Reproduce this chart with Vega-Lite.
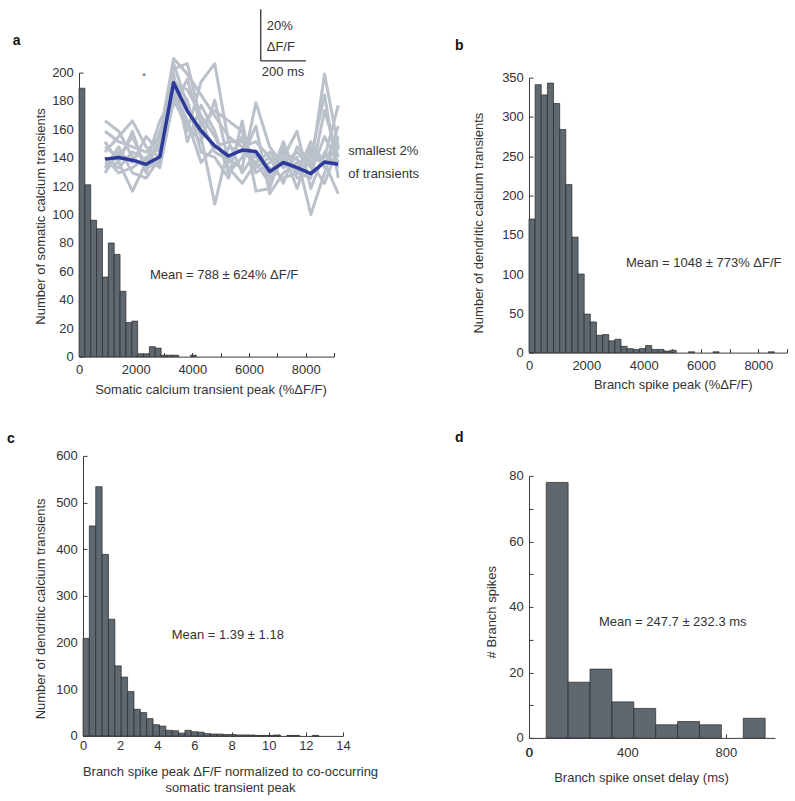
{
  "$schema": "https://vega.github.io/schema/vega-lite/v6.json",
  "autosize": {"type": "pad"},
  "padding": {"left": 7, "top": 7.6, "right": 4, "bottom": 4},
  "background": "white",
  "config": {
    "view": {"stroke": null},
    "font": "Liberation Sans",
    "axis": {
      "grid": false, "domainColor": "#3a3a3a", "tickColor": "#3a3a3a",
      "labelColor": "#333333", "titleColor": "#333333",
      "labelFont": "Liberation Sans", "titleFont": "Liberation Sans",
      "labelFontSize": 13, "titleFontSize": 13, "titleFontWeight": "normal",
      "tickSize": -4, "domainWidth": 1, "tickWidth": 1,
      "labelFlush": false, "labelOverlap": false, "labelBound": false,
      "titleAlign": "center", "titleBaseline": "alphabetic", "format": "d"
    },
    "axisLeft": {"labelPadding": 9.7, "titleAngle": -90},
    "text": {"color": "#333333", "font": "Liberation Sans", "fontSize": 13}
  },
  "datasets": {
    "histA": [
      {"x": 0, "x2": 207, "y": 189}, {"x": 207, "x2": 414, "y": 121}, {"x": 414, "x2": 621, "y": 96},
      {"x": 621, "x2": 828, "y": 90}, {"x": 828, "x2": 1035, "y": 56}, {"x": 1035, "x2": 1242, "y": 80},
      {"x": 1242, "x2": 1449, "y": 72}, {"x": 1449, "x2": 1656, "y": 46}, {"x": 1656, "x2": 1863, "y": 24},
      {"x": 1863, "x2": 2070, "y": 25}, {"x": 2070, "x2": 2277, "y": 2}, {"x": 2277, "x2": 2484, "y": 2},
      {"x": 2484, "x2": 2691, "y": 7}, {"x": 2691, "x2": 2898, "y": 6}, {"x": 2898, "x2": 3105, "y": 1},
      {"x": 3105, "x2": 3312, "y": 1}, {"x": 3312, "x2": 3519, "y": 1}, {"x": 3933, "x2": 4140, "y": 1}
    ],
    "histB": [
      {"x": 0, "x2": 214, "y": 170}, {"x": 214, "x2": 428, "y": 341}, {"x": 428, "x2": 642, "y": 328},
      {"x": 642, "x2": 856, "y": 343}, {"x": 856, "x2": 1070, "y": 317}, {"x": 1070, "x2": 1284, "y": 284},
      {"x": 1284, "x2": 1498, "y": 214}, {"x": 1498, "x2": 1712, "y": 147}, {"x": 1712, "x2": 1926, "y": 100},
      {"x": 1926, "x2": 2140, "y": 49}, {"x": 2140, "x2": 2354, "y": 39}, {"x": 2354, "x2": 2568, "y": 22},
      {"x": 2568, "x2": 2782, "y": 23}, {"x": 2782, "x2": 2996, "y": 15}, {"x": 2996, "x2": 3210, "y": 17},
      {"x": 3210, "x2": 3424, "y": 8}, {"x": 3424, "x2": 3638, "y": 5}, {"x": 3638, "x2": 3852, "y": 4},
      {"x": 3852, "x2": 4066, "y": 5}, {"x": 4066, "x2": 4280, "y": 9}, {"x": 4280, "x2": 4494, "y": 4},
      {"x": 4494, "x2": 4708, "y": 4}, {"x": 4708, "x2": 4922, "y": 2}, {"x": 4922, "x2": 5136, "y": 3},
      {"x": 5564, "x2": 5778, "y": 1}, {"x": 6420, "x2": 6634, "y": 1}, {"x": 8346, "x2": 8560, "y": 1}
    ],
    "histC": [
      {"x": 0, "x2": 0.343, "y": 209}, {"x": 0.343, "x2": 0.686, "y": 450}, {"x": 0.686, "x2": 1.029, "y": 534},
      {"x": 1.029, "x2": 1.372, "y": 389}, {"x": 1.372, "x2": 1.715, "y": 250}, {"x": 1.715, "x2": 2.058, "y": 150},
      {"x": 2.058, "x2": 2.401, "y": 126}, {"x": 2.401, "x2": 2.744, "y": 95}, {"x": 2.744, "x2": 3.087, "y": 57},
      {"x": 3.087, "x2": 3.43, "y": 50}, {"x": 3.43, "x2": 3.773, "y": 37}, {"x": 3.773, "x2": 4.116, "y": 24},
      {"x": 4.116, "x2": 4.459, "y": 21}, {"x": 4.459, "x2": 4.802, "y": 12}, {"x": 4.802, "x2": 5.145, "y": 11},
      {"x": 5.145, "x2": 5.488, "y": 6}, {"x": 5.488, "x2": 5.831, "y": 12}, {"x": 5.831, "x2": 6.174, "y": 9},
      {"x": 6.174, "x2": 6.517, "y": 8}, {"x": 6.517, "x2": 6.86, "y": 5}, {"x": 6.86, "x2": 7.203, "y": 4},
      {"x": 7.203, "x2": 7.546, "y": 4}, {"x": 7.546, "x2": 7.889, "y": 3}, {"x": 7.889, "x2": 8.232, "y": 3},
      {"x": 8.232, "x2": 8.575, "y": 2}, {"x": 8.575, "x2": 8.918, "y": 2}, {"x": 8.918, "x2": 9.261, "y": 2},
      {"x": 9.261, "x2": 9.604, "y": 1}, {"x": 9.604, "x2": 9.947, "y": 1}, {"x": 9.947, "x2": 10.29, "y": 1},
      {"x": 10.29, "x2": 10.633, "y": 2}, {"x": 10.976, "x2": 11.319, "y": 1}, {"x": 11.319, "x2": 11.662, "y": 1},
      {"x": 12.348, "x2": 12.691, "y": 1}
    ],
    "histD": [
      {"x": 70, "x2": 159, "y": 78}, {"x": 159, "x2": 248, "y": 17}, {"x": 248, "x2": 337, "y": 21},
      {"x": 337, "x2": 426, "y": 11}, {"x": 426, "x2": 515, "y": 9}, {"x": 515, "x2": 604, "y": 4},
      {"x": 604, "x2": 693, "y": 5}, {"x": 693, "x2": 782, "y": 4}, {"x": 871, "x2": 960, "y": 6}
    ],
    "notesA": [{"x": 2506, "y": 57.5, "label": "Mean = 788 ± 624% ΔF/F"}],
    "tagA": [{"x": -2199, "y": 219.3, "label": "a"}],
    "notesB": [{"x": 3383, "y": 114.2, "label": "Mean = 1048 ± 773% ΔF/F"}],
    "tagB": [{"x": -2431, "y": 384.9, "label": "b"}],
    "notesC": [{"x": 4.776, "y": 216.4, "label": "Mean = 1.39 ± 1.18"}],
    "tagC": [{"x": -3.877, "y": 628.5, "label": "c"}],
    "notesD": [{"x": 284.6, "y": 35.4, "label": "Mean = 247.7 ± 232.3 ms"}],
    "tagD": [{"x": -283.3, "y": 90.2, "label": "d"}],
    "zeroD": [{"x": 0, "y": -5.71, "label": "0"}],
    "scaleBar": [
      {"t": 11.35, "t2": 11.35, "v": 43.08, "v2": 62.96},
      {"t": 11.35, "t2": 14.65, "v": 43.08, "v2": 43.08}
    ],
    "traceNotes": [
      {"t": 11.79, "v": 56.65, "label": "20%"},
      {"t": 11.79, "v": 48.4, "label": "ΔF/F"},
      {"t": 11.42, "v": 38.7, "label": "200 ms"},
      {"t": 17.73, "v": 8.46, "label": "smallest 2%"},
      {"t": 17.73, "v": -0.38, "label": "of transients"}
    ],
    "star": [{"t": 2.84, "v": 37.2, "label": "*"}],
    "meanTrace": [
      {"t": 0, "v": 5.3}, {"t": 1, "v": 5.9}, {"t": 2, "v": 4.9}, {"t": 3, "v": 3.3}, {"t": 4, "v": 6.2},
      {"t": 5, "v": 34.7}, {"t": 6, "v": 23.8}, {"t": 7, "v": 16.2}, {"t": 8, "v": 10.4}, {"t": 9, "v": 6.5},
      {"t": 10, "v": 8.8}, {"t": 11, "v": 8.2}, {"t": 12, "v": 0.5}, {"t": 13, "v": 4.0}, {"t": 14, "v": 2.0},
      {"t": 15, "v": -0.3}, {"t": 16, "v": 4.2}, {"t": 17, "v": 3.3}
    ],
    "traces": [
      {"id": "T1", "t": 0, "v": 16}, {"id": "T1", "t": 1, "v": 12}, {"id": "T1", "t": 2, "v": 10}, {"id": "T1", "t": 3, "v": 8}, {"id": "T1", "t": 4, "v": 14}, {"id": "T1", "t": 5, "v": 44}, {"id": "T1", "t": 6, "v": 38}, {"id": "T1", "t": 7, "v": 30}, {"id": "T1", "t": 8, "v": 22}, {"id": "T1", "t": 9, "v": 14}, {"id": "T1", "t": 10, "v": 10}, {"id": "T1", "t": 11, "v": 12}, {"id": "T1", "t": 12, "v": 6}, {"id": "T1", "t": 13, "v": 4}, {"id": "T1", "t": 14, "v": 8}, {"id": "T1", "t": 15, "v": 2}, {"id": "T1", "t": 16, "v": 38}, {"id": "T1", "t": 17, "v": 10},
      {"id": "T2", "t": 0, "v": 4}, {"id": "T2", "t": 1, "v": 2}, {"id": "T2", "t": 2, "v": 8}, {"id": "T2", "t": 3, "v": 5}, {"id": "T2", "t": 4, "v": 10}, {"id": "T2", "t": 5, "v": 40}, {"id": "T2", "t": 6, "v": 42}, {"id": "T2", "t": 7, "v": 20}, {"id": "T2", "t": 8, "v": 8}, {"id": "T2", "t": 9, "v": 5}, {"id": "T2", "t": 10, "v": 2}, {"id": "T2", "t": 11, "v": 27}, {"id": "T2", "t": 12, "v": 10}, {"id": "T2", "t": 13, "v": 3}, {"id": "T2", "t": 14, "v": 2}, {"id": "T2", "t": 15, "v": 4}, {"id": "T2", "t": 16, "v": 6}, {"id": "T2", "t": 17, "v": 26},
      {"id": "T3", "t": 0, "v": 8}, {"id": "T3", "t": 1, "v": 14}, {"id": "T3", "t": 2, "v": 20}, {"id": "T3", "t": 3, "v": 10}, {"id": "T3", "t": 4, "v": 6}, {"id": "T3", "t": 5, "v": 42}, {"id": "T3", "t": 6, "v": 26}, {"id": "T3", "t": 7, "v": 14}, {"id": "T3", "t": 8, "v": -12}, {"id": "T3", "t": 9, "v": 10}, {"id": "T3", "t": 10, "v": 8}, {"id": "T3", "t": 11, "v": 4}, {"id": "T3", "t": 12, "v": -4}, {"id": "T3", "t": 13, "v": 6}, {"id": "T3", "t": 14, "v": 16}, {"id": "T3", "t": 15, "v": -6}, {"id": "T3", "t": 16, "v": 8}, {"id": "T3", "t": 17, "v": 2},
      {"id": "T4", "t": 0, "v": 2}, {"id": "T4", "t": 1, "v": 4}, {"id": "T4", "t": 2, "v": -7}, {"id": "T4", "t": 3, "v": 4}, {"id": "T4", "t": 4, "v": 20}, {"id": "T4", "t": 5, "v": 30}, {"id": "T4", "t": 6, "v": 16}, {"id": "T4", "t": 7, "v": 35}, {"id": "T4", "t": 8, "v": 42}, {"id": "T4", "t": 9, "v": 12}, {"id": "T4", "t": 10, "v": 12}, {"id": "T4", "t": 11, "v": 6}, {"id": "T4", "t": 12, "v": 2}, {"id": "T4", "t": 13, "v": -2}, {"id": "T4", "t": 14, "v": 0}, {"id": "T4", "t": 15, "v": 12}, {"id": "T4", "t": 16, "v": 4}, {"id": "T4", "t": 17, "v": -8},
      {"id": "T5", "t": 0, "v": 0}, {"id": "T5", "t": 1, "v": 8}, {"id": "T5", "t": 2, "v": 4}, {"id": "T5", "t": 3, "v": 14}, {"id": "T5", "t": 4, "v": 8}, {"id": "T5", "t": 5, "v": 36}, {"id": "T5", "t": 6, "v": 28}, {"id": "T5", "t": 7, "v": 8}, {"id": "T5", "t": 8, "v": 6}, {"id": "T5", "t": 9, "v": -2}, {"id": "T5", "t": 10, "v": 20}, {"id": "T5", "t": 11, "v": -7}, {"id": "T5", "t": 12, "v": -6}, {"id": "T5", "t": 13, "v": 10}, {"id": "T5", "t": 14, "v": 0}, {"id": "T5", "t": 15, "v": -2}, {"id": "T5", "t": 16, "v": 24}, {"id": "T5", "t": 17, "v": 6},
      {"id": "T6", "t": 0, "v": 20}, {"id": "T6", "t": 1, "v": 16}, {"id": "T6", "t": 2, "v": 6}, {"id": "T6", "t": 3, "v": 2}, {"id": "T6", "t": 4, "v": 4}, {"id": "T6", "t": 5, "v": 34}, {"id": "T6", "t": 6, "v": 32}, {"id": "T6", "t": 7, "v": 22}, {"id": "T6", "t": 8, "v": 14}, {"id": "T6", "t": 9, "v": 2}, {"id": "T6", "t": 10, "v": -4}, {"id": "T6", "t": 11, "v": 4}, {"id": "T6", "t": 12, "v": 8}, {"id": "T6", "t": 13, "v": 2}, {"id": "T6", "t": 14, "v": 6}, {"id": "T6", "t": 15, "v": -16}, {"id": "T6", "t": 16, "v": 0}, {"id": "T6", "t": 17, "v": 14},
      {"id": "T7", "t": 0, "v": 6}, {"id": "T7", "t": 1, "v": 0}, {"id": "T7", "t": 2, "v": 2}, {"id": "T7", "t": 3, "v": 6}, {"id": "T7", "t": 4, "v": 2}, {"id": "T7", "t": 5, "v": 28}, {"id": "T7", "t": 6, "v": 18}, {"id": "T7", "t": 7, "v": 12}, {"id": "T7", "t": 8, "v": 28}, {"id": "T7", "t": 9, "v": 4}, {"id": "T7", "t": 10, "v": 14}, {"id": "T7", "t": 11, "v": 0}, {"id": "T7", "t": 12, "v": 4}, {"id": "T7", "t": 13, "v": 8}, {"id": "T7", "t": 14, "v": -6}, {"id": "T7", "t": 15, "v": 10}, {"id": "T7", "t": 16, "v": 2}, {"id": "T7", "t": 17, "v": 18},
      {"id": "T8", "t": 0, "v": 10}, {"id": "T8", "t": 1, "v": 6}, {"id": "T8", "t": 2, "v": 14}, {"id": "T8", "t": 3, "v": 2}, {"id": "T8", "t": 4, "v": 12}, {"id": "T8", "t": 5, "v": 38}, {"id": "T8", "t": 6, "v": 12}, {"id": "T8", "t": 7, "v": 26}, {"id": "T8", "t": 8, "v": 16}, {"id": "T8", "t": 9, "v": 0}, {"id": "T8", "t": 10, "v": 6}, {"id": "T8", "t": 11, "v": 18}, {"id": "T8", "t": 12, "v": -8}, {"id": "T8", "t": 13, "v": 0}, {"id": "T8", "t": 14, "v": 4}, {"id": "T8", "t": 15, "v": 6}, {"id": "T8", "t": 16, "v": 30}, {"id": "T8", "t": 17, "v": -2},
      {"id": "T9", "t": 0, "v": 2}, {"id": "T9", "t": 1, "v": 10}, {"id": "T9", "t": 2, "v": 0}, {"id": "T9", "t": 3, "v": -2}, {"id": "T9", "t": 4, "v": 6}, {"id": "T9", "t": 5, "v": 32}, {"id": "T9", "t": 6, "v": 20}, {"id": "T9", "t": 7, "v": 4}, {"id": "T9", "t": 8, "v": 10}, {"id": "T9", "t": 9, "v": 12}, {"id": "T9", "t": 10, "v": 0}, {"id": "T9", "t": 11, "v": 8}, {"id": "T9", "t": 12, "v": -2}, {"id": "T9", "t": 13, "v": 12}, {"id": "T9", "t": 14, "v": -2}, {"id": "T9", "t": 15, "v": 0}, {"id": "T9", "t": 16, "v": 14}, {"id": "T9", "t": 17, "v": 4},
      {"id": "T10", "t": 0, "v": 12}, {"id": "T10", "t": 1, "v": 4}, {"id": "T10", "t": 2, "v": 16}, {"id": "T10", "t": 3, "v": 0}, {"id": "T10", "t": 4, "v": 16}, {"id": "T10", "t": 5, "v": 26}, {"id": "T10", "t": 6, "v": 36}, {"id": "T10", "t": 7, "v": 18}, {"id": "T10", "t": 8, "v": 24}, {"id": "T10", "t": 9, "v": 20}, {"id": "T10", "t": 10, "v": 16}, {"id": "T10", "t": 11, "v": 2}, {"id": "T10", "t": 12, "v": 6}, {"id": "T10", "t": 13, "v": -4}, {"id": "T10", "t": 14, "v": 10}, {"id": "T10", "t": 15, "v": 4}, {"id": "T10", "t": 16, "v": -4}, {"id": "T10", "t": 17, "v": 10}
    ]
  },
  "columns": 2,
  "bounds": "flush",
  "align": "each",
  "spacing": {"row": 99.3, "column": 186},
  "concat": [
    {
      "width": 255, "height": 284,
      "layer": [
        {
          "encoding": {
            "x": {"field": "x", "type": "quantitative", "scale": {"domain": [0, 9000], "nice": false, "zero": false},
              "axis": {"title": "Somatic calcium transient peak (%ΔF/F)", "values": [0, 1000, 2000, 3000, 4000, 5000, 6000, 7000, 8000, 9000],
                "labelExpr": "datum.value % 2000 === 0 ? datum.label : ''", "labelOverlap": false, "labelPadding": 10.6, "titleX": 131.5, "titleY": 36.8}},
            "y": {"field": "y", "type": "quantitative", "scale": {"domain": [0, 200], "nice": false},
              "axis": {"title": "Number of somatic calcium transients", "values": [0, 20, 40, 60, 80, 100, 120, 140, 160, 180, 200], "labelOverlap": false, "titleX": -34.5, "titleY": 143.3}}
          },
          "layer": [
            {
              "data": {"name": "histA"},
              "mark": {"type": "rect", "fill": "#5f676f", "stroke": "#26292c", "strokeWidth": 0.7},
              "encoding": {"x2": {"field": "x2"}, "y2": {"datum": 0}}
            },
            {
              "data": {"name": "notesA"},
              "mark": {"type": "text", "align": "left", "baseline": "middle"},
              "encoding": {"text": {"field": "label"}}
            },
            {
              "data": {"name": "tagA"},
              "mark": {"type": "text", "align": "center", "baseline": "alphabetic", "fontSize": 14, "fontWeight": "bold", "color": "#111111"},
              "encoding": {"text": {"field": "label"}}
            }
          ]
        },
        {
          "encoding": {
            "x": {"field": "t", "type": "quantitative", "scale": {"domain": [-1.895, 16.69], "nice": false, "zero": false}, "axis": null},
            "y": {"field": "v", "type": "quantitative", "scale": {"domain": [-70.65, 38.58], "nice": false, "zero": false}, "axis": null}
          },
          "layer": [
            {
              "data": {"name": "traces"},
              "mark": {"type": "line", "stroke": "#bac1cb", "strokeWidth": 3, "strokeJoin": "round"},
              "encoding": {"detail": {"field": "id"}}
            },
            {
              "data": {"name": "meanTrace"},
              "mark": {"type": "line", "stroke": "#2d3a9a", "strokeWidth": 3.5, "strokeJoin": "round"},
              "encoding": {}
            },
            {
              "data": {"name": "scaleBar"},
              "mark": {"type": "rule", "stroke": "#333333", "strokeWidth": 1.3},
              "encoding": {"x2": {"field": "t2"}, "y2": {"field": "v2"}}
            },
            {
              "data": {"name": "traceNotes"},
              "mark": {"type": "text", "align": "left", "baseline": "middle"},
              "encoding": {"text": {"field": "label"}}
            },
            {
              "data": {"name": "star"},
              "mark": {"type": "text", "align": "center", "baseline": "middle", "fontSize": 9},
              "encoding": {"text": {"field": "label"}}
            }
          ]
        }
      ],
      "resolve": {"scale": {"x": "independent", "y": "independent"}}
    },
    {
      "width": 258, "height": 280,
      "encoding": {
        "x": {"field": "x", "type": "quantitative", "scale": {"domain": [0, 9000], "nice": false, "zero": false},
          "axis": {"title": "Branch spike peak (%ΔF/F)", "values": [0, 1000, 2000, 3000, 4000, 5000, 6000, 7000, 8000, 9000],
            "labelExpr": "datum.value % 2000 === 0 ? datum.label : ''", "labelOverlap": false, "labelPadding": 11.3, "titleX": 143.8, "titleY": 36.3}},
        "y": {"field": "y", "type": "quantitative", "scale": {"domain": [0, 350], "nice": false, "range": [280, 5]},
          "axis": {"title": "Number of dendritic calcium transients", "values": [0, 50, 100, 150, 200, 250, 300, 350], "labelOverlap": false, "titleX": -46, "titleY": 150}}
      },
      "layer": [
        {
          "data": {"name": "histB"},
          "mark": {"type": "rect", "fill": "#5f676f", "stroke": "#26292c", "strokeWidth": 0.7},
          "encoding": {"x2": {"field": "x2"}, "y2": {"datum": 0}}
        },
        {
          "data": {"name": "notesB"},
          "mark": {"type": "text", "align": "left", "baseline": "middle"},
          "encoding": {"text": {"field": "label"}}
        },
        {
          "data": {"name": "tagB"},
          "mark": {"type": "text", "align": "center", "baseline": "alphabetic", "fontSize": 14, "fontWeight": "bold", "color": "#111111"},
          "encoding": {"text": {"field": "label"}}
        }
      ]
    },
    {
      "width": 264, "height": 280,
      "encoding": {
        "x": {"field": "x", "type": "quantitative", "scale": {"domain": [0, 14], "nice": false, "zero": false, "range": [4, 264]},
          "axis": {"title": ["Branch spike peak ΔF/F normalized to co-occurring", "somatic transient peak"], "values": [0, 2, 4, 6, 8, 10, 12, 14],
            "labelOverlap": false, "labelPadding": 8, "titleX": 151, "titleY": 39.5, "titleLineHeight": 16}},
        "y": {"field": "y", "type": "quantitative", "scale": {"domain": [0, 600], "nice": false},
          "axis": {"title": "Number of dendritic calcium transients", "values": [0, 100, 200, 300, 400, 500, 600], "labelOverlap": false, "offset": -4, "titleX": -38.5, "titleY": 152.5}}
      },
      "layer": [
        {
          "data": {"name": "histC"},
          "mark": {"type": "rect", "fill": "#5f676f", "stroke": "#26292c", "strokeWidth": 0.7},
          "encoding": {"x2": {"field": "x2"}, "y2": {"datum": 0}}
        },
        {
          "data": {"name": "notesC"},
          "mark": {"type": "text", "align": "left", "baseline": "middle"},
          "encoding": {"text": {"field": "label"}}
        },
        {
          "data": {"name": "tagC"},
          "mark": {"type": "text", "align": "center", "baseline": "alphabetic", "fontSize": 14, "fontWeight": "bold", "color": "#111111"},
          "encoding": {"text": {"field": "label"}}
        }
      ]
    },
    {
      "width": 246, "height": 282,
      "encoding": {
        "x": {"field": "x", "type": "quantitative", "scale": {"domain": [0, 1000], "nice": false, "zero": false},
          "axis": {"title": "Branch spike onset delay (ms)", "values": [0, 400, 800],
            "labelOverlap": false, "labelBound": false, "labelFlush": false, "labelPadding": 12.7, "titleX": 112, "titleY": 44}},
        "y": {"field": "y", "type": "quantitative", "scale": {"domain": [0, 80], "nice": false, "range": [282, 20]},
          "axis": {"title": "# Branch spikes", "values": [0, 10, 20, 30, 40, 50, 60, 70, 80],
            "labelExpr": "datum.value % 20 === 0 ? datum.label : ''", "labelOverlap": false, "titleX": -33, "titleY": 155.8}}
      },
      "layer": [
        {
          "data": {"name": "histD"},
          "mark": {"type": "rect", "fill": "#5f676f", "stroke": "#26292c", "strokeWidth": 0.7},
          "encoding": {"x2": {"field": "x2"}, "y2": {"datum": 0}}
        },
        {
          "data": {"name": "notesD"},
          "mark": {"type": "text", "align": "left", "baseline": "middle"},
          "encoding": {"text": {"field": "label"}}
        },
        {
          "data": {"name": "zeroD"},
          "mark": {"type": "text", "align": "center", "baseline": "alphabetic"},
          "encoding": {"text": {"field": "label"}}
        },
        {
          "data": {"name": "tagD"},
          "mark": {"type": "text", "align": "center", "baseline": "alphabetic", "fontSize": 14, "fontWeight": "bold", "color": "#111111"},
          "encoding": {"text": {"field": "label"}}
        }
      ]
    }
  ]
}
